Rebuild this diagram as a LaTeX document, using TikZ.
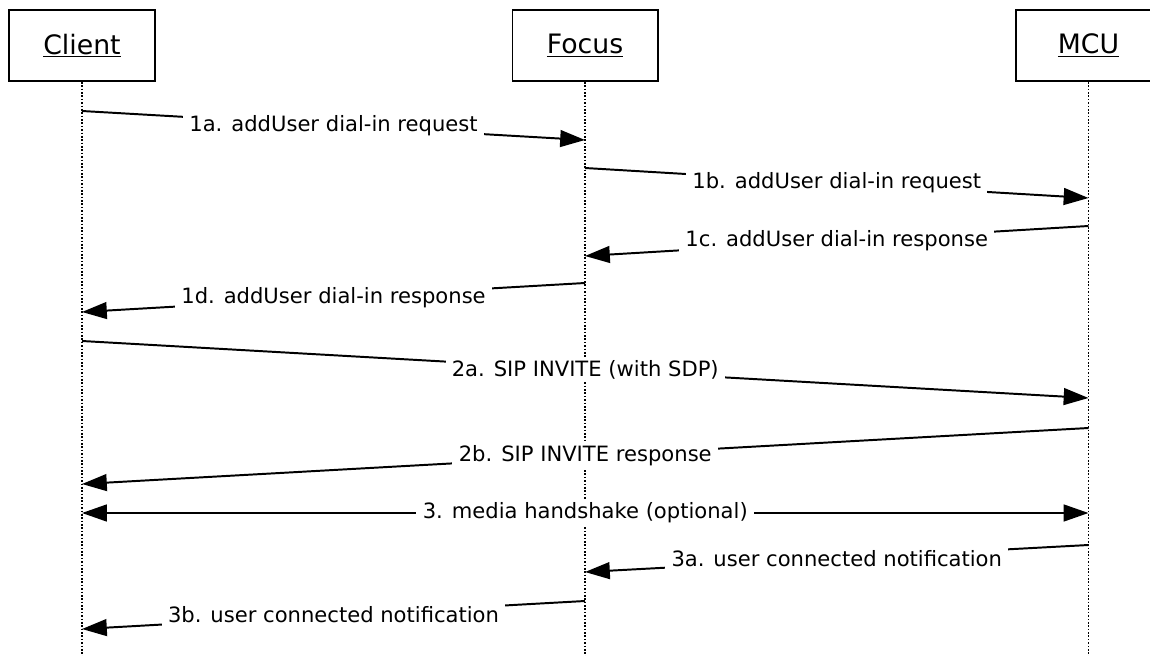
\documentclass[tikz,border=0pt]{standalone}
\usepackage{fontspec}
\setmainfont{DejaVu Sans}
\usetikzlibrary{arrows.meta}
\tikzset{every path/.style={line width=1.4pt}}
\tikzset{
  actor/.style={draw, minimum width=3.625cm, minimum height=1.775cm, inner sep=0pt,
    font=\fontsize{19}{22}\selectfont},
  lifeline/.style={line width=0.9pt, dash pattern=on 1.1pt off 1.3pt},
  msg/.style={-{Triangle[length=0.62cm,width=0.42cm]}},
  both/.style={{Triangle[length=0.62cm,width=0.42cm]}-{Triangle[length=0.62cm,width=0.42cm]}},
  lbl/.style={fill=white, inner xsep=4.5pt, inner ysep=2pt}
}

\begin{document}
\begin{tikzpicture}[x=0.025cm, y=-0.025cm, font=\fontsize{15}{18}\selectfont]
\useasboundingbox (0,0) rectangle (1150,656);
% participants
\node[actor] (client) at (82,45.5) {\underline{Client}};
\node[actor] (focus) at (585,45.5) {\underline{Focus}};
\node[actor] (mcu) at (1088.5,45.5) {\underline{MCU}};
\draw[lifeline] (client.south) -- (client |- 0,656);
\draw[lifeline] (focus.south) -- (focus |- 0,656);
\draw[lifeline] (mcu.south) -- (mcu |- 0,656);
% messages
\draw[msg] (client |- 0,111) -- node[lbl] (m1a) {1a. addUser dial-in request} (focus |- 0,140);
\draw[msg] (focus |- 0,168) -- node[lbl] (m1b) {1b. addUser dial-in request} (mcu |- 0,198);
\draw[msg] (mcu |- 0,226) -- node[lbl] (m1c) {1c. addUser dial-in response} (focus |- 0,256);
\draw[msg] (focus |- 0,283) -- node[lbl] (m1d) {1d. addUser dial-in response} (client |- 0,312);
\draw[msg] (client |- 0,341) -- node[lbl] (m2a) {2a. SIP INVITE (with SDP)} (mcu |- 0,398);
\draw[msg] (mcu |- 0,428) -- node[lbl] (m2b) {2b. SIP INVITE response} (client |- 0,484);
\draw[both] (client |- 0,513) -- node[lbl] (m3) {3. media handshake (optional)} (mcu |- 0,513);
\draw[msg] (mcu |- 0,545) -- node[lbl] (m3a) {3a. user connected notification} (focus |- 0,572);
\draw[msg] (focus |- 0,601) -- node[lbl] (m3b) {3b. user connected notification} (client |- 0,629);
\end{tikzpicture}
\end{document}
